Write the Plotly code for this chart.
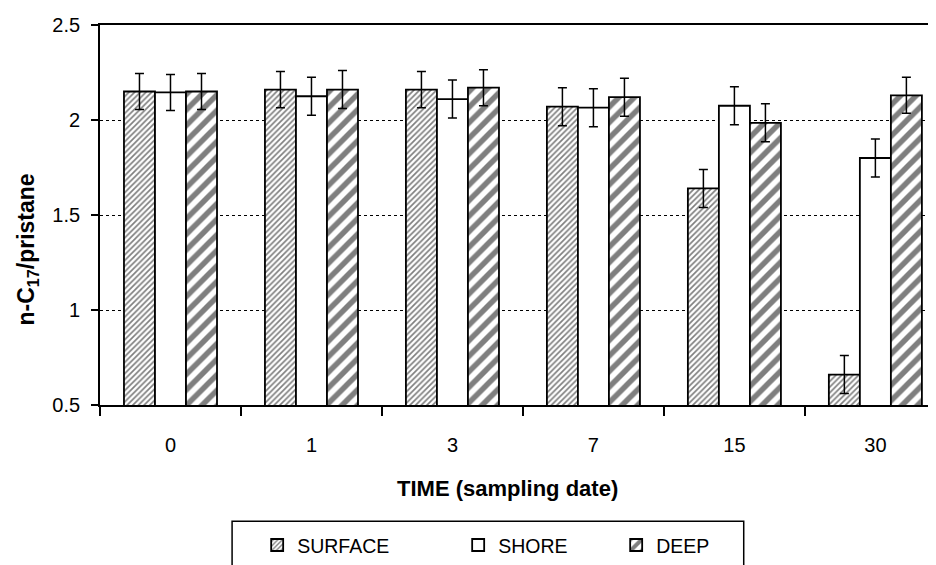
import plotly.graph_objects as go

categories = ["0", "1", "3", "7", "15", "30"]
surface = [2.15, 2.16, 2.16, 2.07, 1.64, 0.66]
shore = [2.145, 2.125, 2.11, 2.065, 2.075, 1.80]
deep = [2.15, 2.16, 2.17, 2.12, 1.985, 2.13]
surface_err = [0.095, 0.095, 0.095, 0.1, 0.1, 0.1]
shore_err = [0.095, 0.1, 0.1, 0.1, 0.1, 0.1]
deep_err = [0.095, 0.1, 0.095, 0.1, 0.1, 0.095]
y_ticks = [0.5, 1, 1.5, 2, 2.5]
y_tick_text = ["0.5", "1", "1.5", "2", "2.5"]

FONT = "Liberation Sans, Arial, sans-serif"
err_style = dict(type="data", thickness=1.5, width=4.5, color="black")
bar_line = dict(color="black", width=1.8)

fig = go.Figure()
fig.add_trace(go.Bar(
    x=categories, y=surface, name="SURFACE", legendwidth=156,
    error_y=dict(array=surface_err, **err_style),
    marker=dict(color="white", line=bar_line,
                pattern=dict(shape="/", size=4, solidity=0.42, fgcolor="black", bgcolor="white")),
))
fig.add_trace(go.Bar(
    x=categories, y=shore, name="SHORE", legendwidth=113,
    error_y=dict(array=shore_err, **err_style),
    marker=dict(color="white", line=bar_line),
))
fig.add_trace(go.Bar(
    x=categories, y=deep, name="DEEP", legendwidth=60,
    error_y=dict(array=deep_err, **err_style),
    marker=dict(color="white", line=bar_line,
                pattern=dict(shape="/", size=11, solidity=0.5, fgcolor="black", bgcolor="white")),
))

# page is offset by an 8px body margin; figure sized so it ends at the window edge
fig.update_layout(
    width=928, height=557,
    margin=dict(l=92, r=0, t=17, b=151),
    paper_bgcolor="white", plot_bgcolor="white",
    barmode="group", bargap=0.34, bargroupgap=0,
    font=dict(family=FONT, size=20, color="black"),
    showlegend=True,
    legend=dict(orientation="h", x=0.188, y=-0.318, xanchor="left", yanchor="top",
                bgcolor="rgba(0,0,0,0)", borderwidth=0,
                font=dict(size=19.5, family=FONT), tracegroupgap=0),
    xaxis=dict(
        type="category", range=[-0.5, 5.43],
        showline=True, linecolor="black", linewidth=1.8, mirror=True,
        ticks="outside", tickson="boundaries", ticklen=9, tickcolor="black", tickwidth=1.5,
        ticklabelstandoff=21,
        showgrid=False,
        tickfont=dict(size=20),
    ),
    yaxis=dict(
        range=[0.5, 2.5], tickmode="array", tickvals=y_ticks, ticktext=y_tick_text,
        showline=True, linecolor="black", linewidth=1.8,
        ticks="outside", ticklen=7, tickcolor="black", tickwidth=1.5,
        ticklabelstandoff=7,
        showgrid=True, gridcolor="black", gridwidth=1, griddash="dot",
        zeroline=False,
        tickfont=dict(size=20),
    ),
    shapes=[dict(type="rect", xref="paper", yref="paper",
                 x0=0.158, x1=0.770, y0=-0.306, y1=-0.6,
                 line=dict(color="black", width=1.5), fillcolor="rgba(0,0,0,0)")],
    annotations=[
        dict(text="<b>n-C<sub>17</sub>/pristane</b>", xref="paper", yref="paper",
             x=-0.087, y=0.41, xanchor="center", yanchor="middle", textangle=-90,
             showarrow=False, font=dict(size=23, family=FONT)),
        dict(text="<b>TIME (sampling date)</b>", xref="paper", yref="paper",
             x=0.487, y=-0.2186, xanchor="center", yanchor="middle",
             showarrow=False, font=dict(size=22, family=FONT)),
    ],
)

fig.write_html("out.html")
